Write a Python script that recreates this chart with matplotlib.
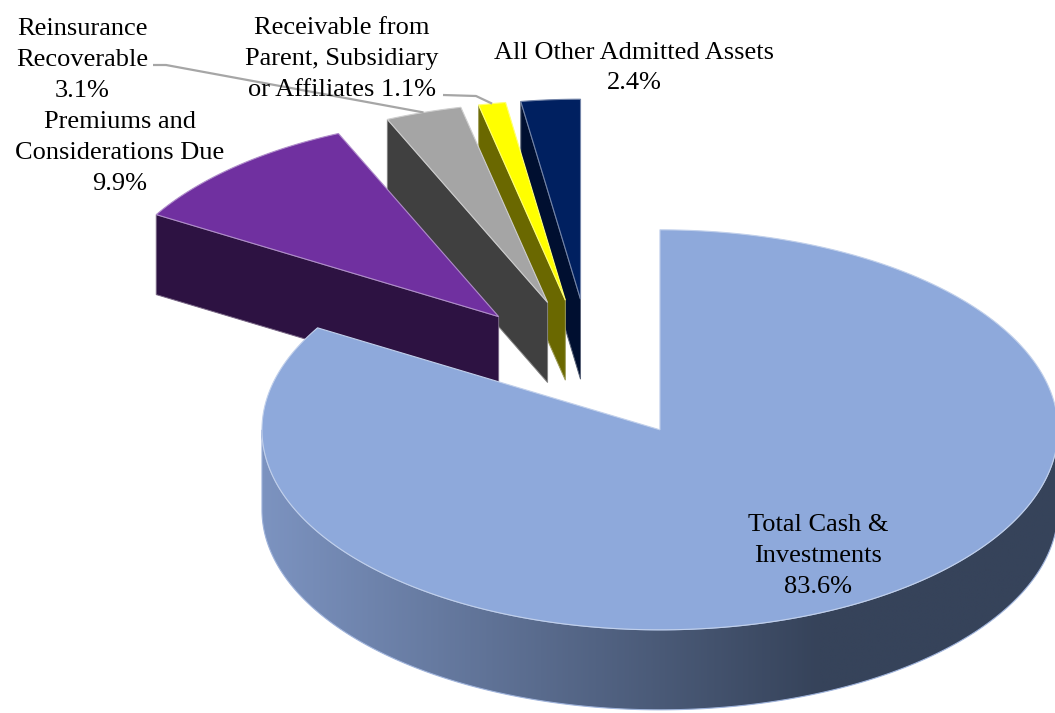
import numpy as np
import matplotlib
matplotlib.use('Agg')
import matplotlib.pyplot as plt
from matplotlib.patches import Polygon
from matplotlib.colors import LinearSegmentedColormap, to_rgb

# Admitted assets breakdown
categories = ['Total Cash &\nInvestments',
              'Premiums and\nConsiderations Due',
              'Reinsurance\nRecoverable',
              'Receivable from\nParent, Subsidiary\nor Affiliates',
              'All Other Admitted Assets']
shares = [83.6, 9.9, 3.1, 1.1, 2.4]
value_sep = ['\n', '\n', '\n', ' ', '\n']

top_colors = ['#8EA9DB', '#7030A0', '#A5A5A5', '#FFFF00', '#002060']
side_colors = ['#7B91BE', '#2D1242', '#404040', '#6A6800', '#000F30']

# label centres and leader knees (canvas pixels)
label_xy = [(818, 556), (120, 153), (82, 60), (342, 59), (634, 68)]
leaders = {2: [(153, 65), (166, 65)], 3: [(443, 95), (476, 96)]}

# pie geometry in canvas pixels (y grows downward)
cx, cy = 591, 369
rx, ry = 398, 200
depth = 80
explode = 0.35

W, H = 1055, 713
fig = plt.figure(figsize=(W / 100, H / 100), dpi=100)
ax = fig.add_axes([0, 0, 1, 1])
ax.set_xlim(0, W)
ax.set_ylim(H, 0)
ax.axis('off')


def rim(x0, y0, ang):
    a = np.deg2rad(ang)
    return np.column_stack([x0 + rx * np.sin(a), y0 - ry * np.cos(a)])


def lighten(c, f):
    r = np.array(to_rgb(c))
    return tuple(r + (1 - r) * f)


bounds = np.concatenate([[0], np.cumsum(shares)]) / sum(shares) * 360
centres = []
for i in range(len(shares)):
    mid = np.deg2rad((bounds[i] + bounds[i + 1]) / 2)
    centres.append((cx + explode * rx * np.sin(mid), cy - explode * ry * np.cos(mid)))

wall_cmap = LinearSegmentedColormap.from_list('wall', ['#7C93C0', '#36435A'])


def draw_slice(i):
    a0, a1 = bounds[i], bounds[i + 1]
    x0, y0 = centres[i]
    apex = np.array([x0, y0])
    down = np.array([0, depth])

    # radial face at the start edge, seen when it turns toward the viewer
    if np.sin(np.deg2rad(a0)) < -1e-6:
        p = rim(x0, y0, [a0])[0]
        face = np.array([apex, p, p + down, apex + down])
        ax.add_patch(Polygon(face, closed=True, facecolor=side_colors[i],
                             edgecolor=lighten(side_colors[i], 0.35), lw=0.7, zorder=2))
    if np.sin(np.deg2rad(a1)) > 1e-6:
        p = rim(x0, y0, [a1])[0]
        face = np.array([apex, p, p + down, apex + down])
        ax.add_patch(Polygon(face, closed=True, facecolor=side_colors[i],
                             edgecolor='none', zorder=2))

    # curved outer wall on the front half
    lo, hi = max(a0, 90), min(a1, 270)
    if hi > lo:
        arc = rim(x0, y0, np.linspace(lo, hi, 300))
        wall = np.vstack([arc, arc[::-1] + down])
        patch = Polygon(wall, closed=True, facecolor='none', edgecolor='#9FB3DB',
                        lw=0.8, zorder=3)
        ax.add_patch(patch)
        grad = np.clip((np.linspace(x0 - rx, x0 + rx, 400) - (x0 - rx)) / (1.4 * rx), 0, 1)
        img = ax.imshow(grad[np.newaxis, :], cmap=wall_cmap, aspect='auto',
                        extent=(x0 - rx, x0 + rx, y0 + ry + depth + 2, y0 - 2),
                        interpolation='bilinear', zorder=2.5)
        img.set_clip_path(patch)

    # top face
    arc = rim(x0, y0, np.linspace(a0, a1, 300))
    top = np.vstack([apex, arc])
    ax.add_patch(Polygon(top, closed=True, facecolor=top_colors[i],
                         edgecolor=lighten(top_colors[i], 0.45), lw=0.8, zorder=4))


# back slices first, the large front slice last
for i in [4, 3, 2, 1]:
    draw_slice(i)
draw_slice(0)

for i, (name, val) in enumerate(zip(categories, shares)):
    lx, ly = label_xy[i]
    ax.text(lx, ly, f'{name}{value_sep[i]}{val:.1f}%', ha='center', va='center',
            fontsize=19, family='Liberation Serif', color='black',
            linespacing=1.52, zorder=6)

for i, knees in leaders.items():
    x0, y0 = centres[i]
    tip = rim(x0, y0, [(bounds[i] + bounds[i + 1]) / 2])[0]
    pts = np.array(knees + [tuple(tip)])
    ax.plot(pts[:, 0], pts[:, 1], color='#A6A6A6', lw=1.6, zorder=5,
            solid_capstyle='butt')

fig.savefig('out.png', dpi=100, facecolor='white')
